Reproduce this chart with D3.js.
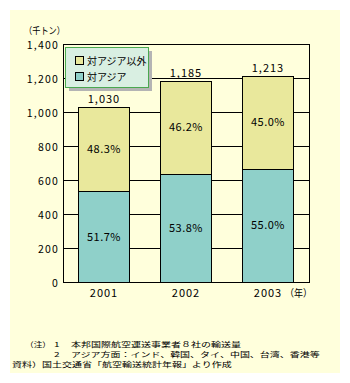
<!DOCTYPE html>
<html><head><meta charset="utf-8">
<script src="https://cdn.jsdelivr.net/npm/d3@7/dist/d3.min.js"></script>
<style>
html,body{margin:0;padding:0;background:#fff;}
text{font-family:"Noto Sans CJK JP","Noto Sans",sans-serif;fill:#000;}
</style></head>
<body>
<svg id="c" width="350" height="383"></svg>
<script>
const years = ["2001","2002","2003"];
const totals = [1030, 1185, 1213];
const asiaPct = [51.7, 53.8, 55.0];
const otherPct = [48.3, 46.2, 45.0];
const yTicks = [0,200,400,600,800,1000,1200,1400];
const seriesNames = ["対アジア以外","対アジア"];
const notes = [
  ["（注）","1","本邦国際航空運送事業者８社の輸送量"],
  ["","2","アジア方面：インド、韓国、タイ、中国、台湾、香港等"],
  ["資料）国土交通省「航空輸送統計年報」より作成"]
];

const colAsia = "#8fd0c9", colOther = "#e9e89c";
const svg = d3.select("#c");
svg.append("rect").attr("x",10).attr("y",10).attr("width",330).attr("height",363).attr("fill","#ffffdc");

const L=63,R=309,T=44,B=282;
const x = d3.scaleBand().domain(years).range([L,R]).paddingInner(0.378).paddingOuter(0.189);
const y = d3.scaleLinear().domain([0,1400]).range([B,T]);

svg.append("g").selectAll("line").data(yTicks).join("line")
  .attr("x1",L).attr("x2",R).attr("y1",d=>Math.round(y(d))+0.5).attr("y2",d=>Math.round(y(d))+0.5)
  .attr("stroke","#000").attr("stroke-width",1);
svg.append("rect").attr("x",L+0.5).attr("y",Math.round(T)+0.5).attr("width",R-L).attr("height",Math.round(B)-Math.round(T))
  .attr("fill","none").attr("stroke","#000");

const data = years.map((yr,i)=>({yr, total:totals[i], asia:totals[i]*asiaPct[i]/100, ap:asiaPct[i], op:otherPct[i]}));
const g = svg.append("g");
data.forEach(d=>{
  const x0 = Math.round(x(d.yr))+0.5, w = Math.round(x.bandwidth());
  const yA = Math.round(y(d.asia))+0.5, yT = Math.round(y(d.total))+0.5, y0 = Math.round(y(0))+0.5;
  g.append("rect").attr("x",x0).attr("y",yT).attr("width",w).attr("height",yA-yT).attr("fill",colOther).attr("stroke","#000");
  g.append("rect").attr("x",x0).attr("y",yA).attr("width",w).attr("height",y0-yA).attr("fill",colAsia).attr("stroke","#000");
  const cx = x(d.yr)+x.bandwidth()/2;
  g.append("text").attr("x",cx).attr("y",y(d.total)-4).attr("text-anchor","middle").attr("font-size",11).attr("letter-spacing",1)
    .text(d3.format(",")(d.total));
  g.append("text").attr("x",cx).attr("y",(y(d.total)+y(d.asia))/2+4).attr("text-anchor","middle").attr("font-size",11).attr("letter-spacing",0.5)
    .text(d.op.toFixed(1)+"%");
  g.append("text").attr("x",cx).attr("y",(y(d.asia)+y(0))/2+4).attr("text-anchor","middle").attr("font-size",11).attr("letter-spacing",0.5)
    .text(d.ap.toFixed(1)+"%");
});

svg.append("g").selectAll("text").data(yTicks).join("text")
  .attr("x",59).attr("y",d=>y(d)+4.5).attr("text-anchor","end").attr("font-size",10.5).attr("letter-spacing",1.2)
  .text(d=>d3.format(",")(d));
svg.append("text").attr("x",24).attr("y",33.5).attr("font-size",9.5).attr("textLength",41).attr("lengthAdjust","spacingAndGlyphs").text("（千トン）");

svg.append("g").selectAll("text").data(years).join("text")
  .attr("x",d=>x(d)+x.bandwidth()/2).attr("y",297).attr("text-anchor","middle").attr("font-size",11).attr("letter-spacing",1)
  .text(d=>d);
svg.append("text").attr("x",285).attr("y",297).attr("font-size",10).attr("textLength",27).attr("lengthAdjust","spacingAndGlyphs").text("（年）");

const lg = svg.append("g");
lg.append("rect").attr("x",69).attr("y",51).attr("width",83).attr("height",40).attr("fill","#b4b4b4");
lg.append("rect").attr("x",65.5).attr("y",47.5).attr("width",83).attr("height",40).attr("fill","#d9efe2").attr("stroke","#4aa84f");
[colOther,colAsia].forEach((c,i)=>{
  lg.append("rect").attr("x",75.5).attr("y",56.5+i*16).attr("width",8).attr("height",8).attr("fill",c).attr("stroke","#000");
  lg.append("text").attr("x",87).attr("y",64.5+i*16).attr("font-size",10).text(seriesNames[i]);
});

const ng = svg.append("g");
function note(xp, yp, s, tl){
  const t = ng.append("text").attr("transform",`translate(${xp},${yp}) scale(1,0.7)`).attr("font-size",10).text(s);
  if (tl) t.attr("textLength",tl).attr("lengthAdjust","spacingAndGlyphs");
}
note(25,346.5,notes[0][0],26); note(54,346.5,notes[0][1]); note(71,346.5,notes[0][2]);
note(54,356.8,notes[1][1]); note(71,356.8,notes[1][2]);
note(12,367.1,notes[2][0]);
</script>
</body></html>
